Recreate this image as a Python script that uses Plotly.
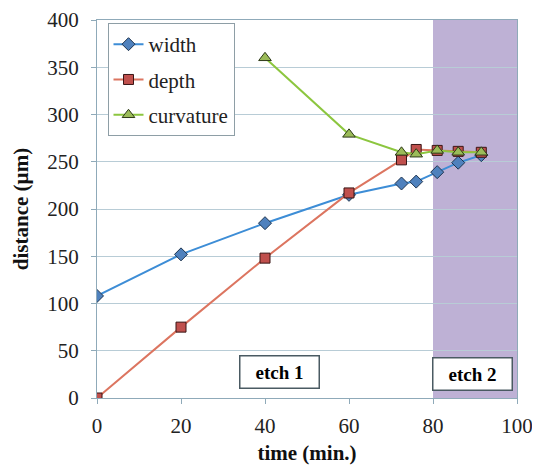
import plotly.graph_objects as go

width_t = [0, 20, 40, 60, 72.5, 76, 81, 86, 91.5]
width_v = [108, 152, 185, 215, 227, 229, 239, 249, 257]
depth_t = [0, 20, 40, 60, 72.5, 76, 81, 86, 91.5]
depth_v = [0, 75, 148, 217, 252, 263, 262, 261, 260]
curv_t = [40, 60, 72.5, 76, 81, 86, 91.5]
curv_v = [360, 279, 260, 258, 262, 260, 260]

etch2_range = [80, 100]
x_ticks = [0, 20, 40, 60, 80, 100]
y_ticks = [0, 50, 100, 150, 200, 250, 300, 350, 400]

serif = "Liberation Serif, Times New Roman, serif"
axcol = "#8FAAB9"

fig = go.Figure()
fig.add_shape(type="rect", xref="x", yref="y", x0=etch2_range[0], x1=etch2_range[1],
              y0=0, y1=400, fillcolor="#BEB1D5", line=dict(width=0), layer="below")

fig.add_trace(go.Scatter(x=width_t, y=width_v, name="width", mode="lines+markers",
                         legendgroup="g1",
                         line=dict(color="#3D8DD6", width=2),
                         marker=dict(symbol="diamond", size=10, color="#4F81BD",
                                     line=dict(color="#1F3550", width=1))))
fig.add_trace(go.Scatter(x=depth_t, y=depth_v, name="depth", mode="lines+markers",
                         legendgroup="g2",
                         line=dict(color="#DC7560", width=2),
                         marker=dict(symbol="square", size=10, color="#C0504D",
                                     line=dict(color="#3A1515", width=1))))
fig.add_trace(go.Scatter(x=curv_t, y=curv_v, name="curvature", mode="lines+markers",
                         legendgroup="g3",
                         line=dict(color="#8CC63F", width=2),
                         marker=dict(symbol="triangle-up", size=11, color="#9BBB59",
                                     line=dict(color="#2E3A18", width=1))))

fig.add_annotation(x=43.5, y=27, text="<b>etch 1</b>", showarrow=False,
                   font=dict(family=serif, size=19, color="black"), width=74, height=27,
                   bordercolor="#4A5A62", borderwidth=1.5, borderpad=2, bgcolor="white")
fig.add_annotation(x=89.5, y=25, text="<b>etch 2</b>", showarrow=False,
                   font=dict(family=serif, size=19, color="black"), width=74, height=27,
                   bordercolor="#4A5A62", borderwidth=1.5, borderpad=2, bgcolor="white")

fig.update_layout(
    width=540, height=471,
    margin=dict(l=89, r=31, t=12, b=81, autoexpand=False),
    paper_bgcolor="white", plot_bgcolor="white",
    font=dict(family=serif, size=21, color="#222"),
    showlegend=True,
    legend=dict(x=0.025, y=0.992, xanchor="left", yanchor="top",
                bordercolor="#8E9EA6", borderwidth=1, bgcolor="white",
                font=dict(family=serif, size=21, color="#222"),
                tracegroupgap=5, itemwidth=30),
    xaxis=dict(range=[0, 100], tickvals=x_ticks, showgrid=False, automargin=False,
               showline=True, linecolor=axcol, linewidth=1, mirror=True,
               ticks="outside", ticklen=5, tickcolor=axcol, zeroline=False,
               ticklabelstandoff=4,
               tickfont=dict(family=serif, size=21, color="#222"),
               title=dict(text="<b>time (min.)</b>", font=dict(family=serif, size=21, color="#111"), standoff=8)),
    yaxis=dict(range=[0, 400], tickvals=y_ticks, showgrid=True, gridcolor="#B8CCD6", automargin=False,
               showline=True, linecolor=axcol, linewidth=1, mirror=True,
               ticks="outside", ticklen=5, tickcolor=axcol, zeroline=False,
               ticklabelstandoff=8,
               tickfont=dict(family=serif, size=21, color="#222"),
               title=dict(text="<b>distance (µm)</b>", font=dict(family=serif, size=21, color="#111"), standoff=12)),
)

fig.write_html("out.html")
